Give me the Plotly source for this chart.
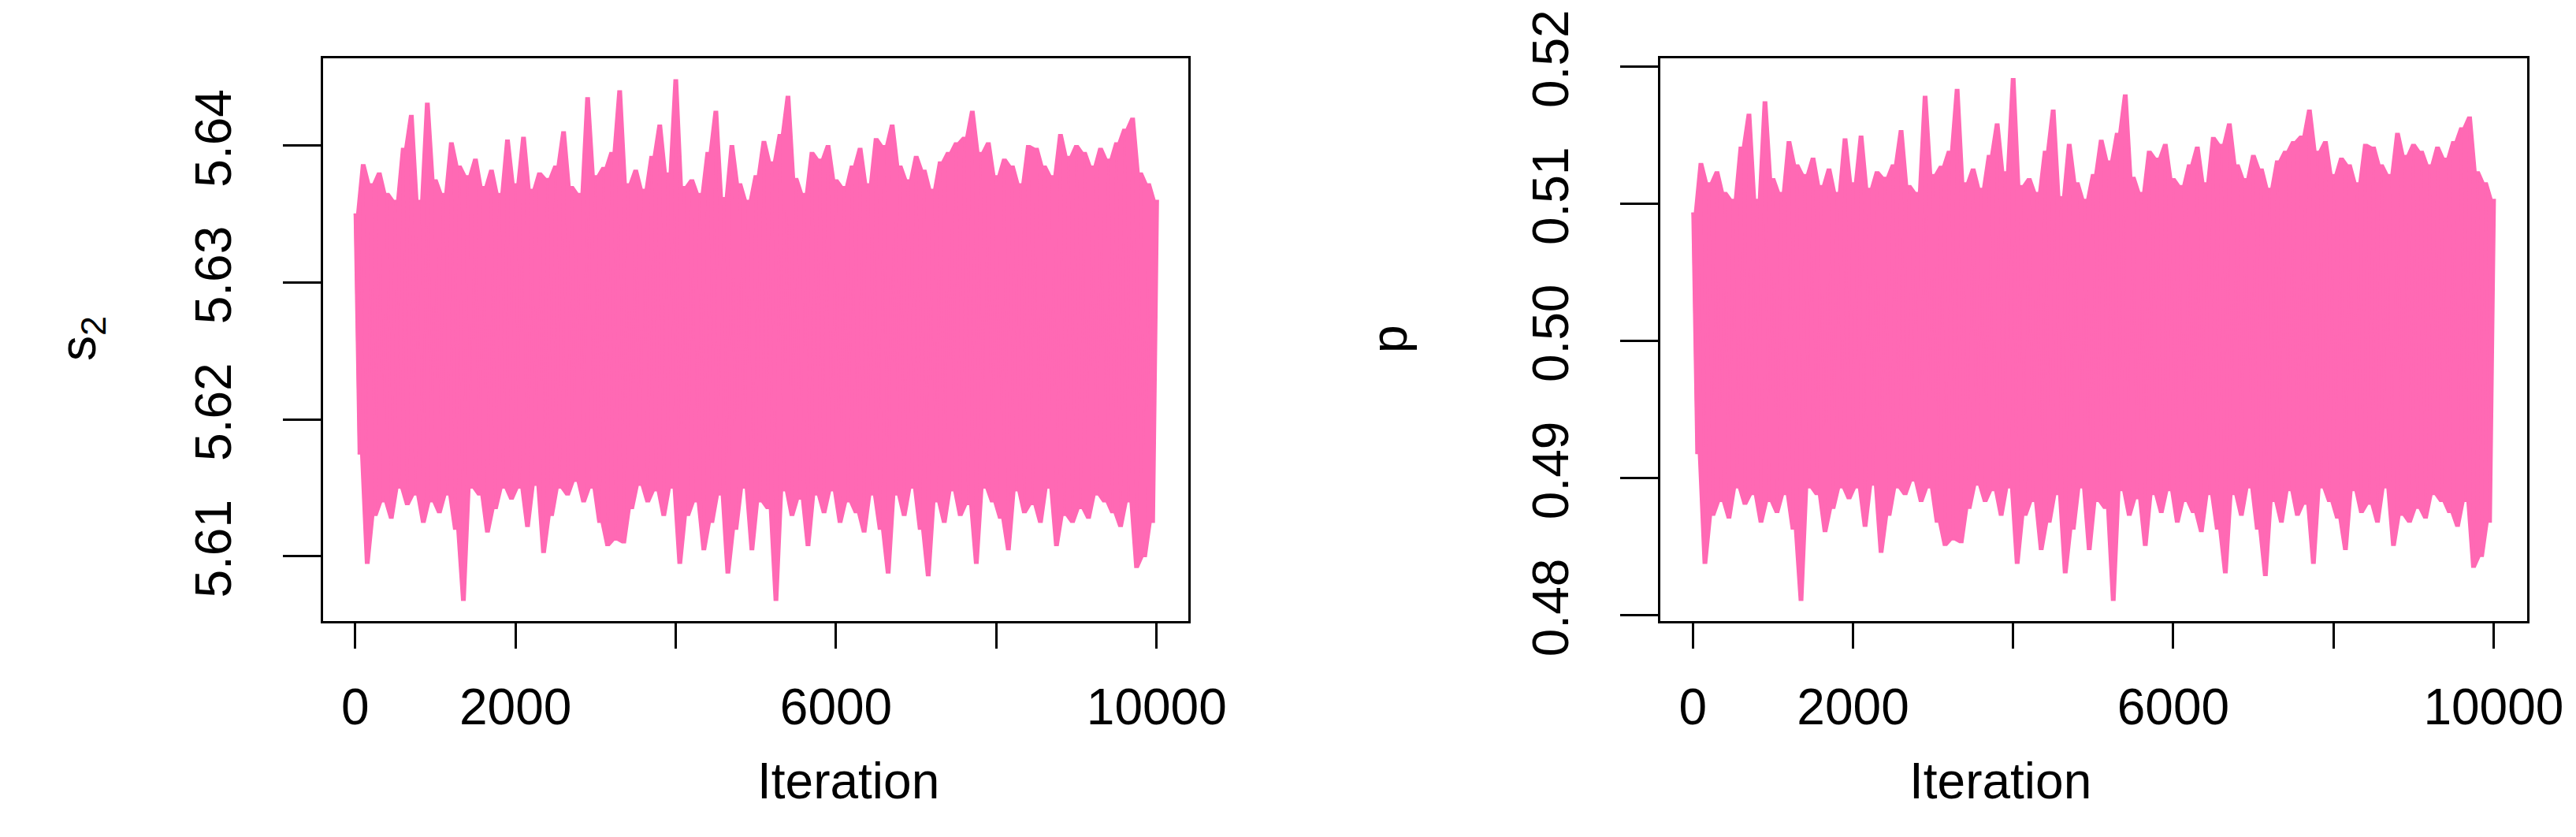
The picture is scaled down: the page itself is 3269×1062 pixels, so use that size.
import plotly.graph_objects as go

# upper excursions of s2 at iterations 0,100,...,10000
s2_hi = [5.6350,5.6386,5.6372,5.6380,5.6365,5.6360,5.6398,5.6422,5.6360,5.6431,
         5.6375,5.6365,5.6402,5.6385,5.6378,5.6390,5.6370,5.6382,5.6365,5.6404,
         5.6372,5.6406,5.6368,5.6380,5.6376,5.6385,5.6410,5.6370,5.6365,5.6435,
         5.6378,5.6384,5.6395,5.6440,5.6372,5.6382,5.6368,5.6392,5.6415,5.6380,
         5.6448,5.6370,5.6375,5.6365,5.6395,5.6425,5.6362,5.6400,5.6372,5.6360,
         5.6378,5.6403,5.6388,5.6408,5.6436,5.6376,5.6365,5.6395,5.6390,5.6400,
         5.6375,5.6370,5.6385,5.6398,5.6372,5.6405,5.6400,5.6415,5.6385,5.6375,
         5.6392,5.6382,5.6368,5.6388,5.6395,5.6402,5.6406,5.6425,5.6395,5.6402,
         5.6378,5.6390,5.6385,5.6372,5.6400,5.6398,5.6385,5.6378,5.6408,5.6392,
         5.6400,5.6395,5.6385,5.6398,5.6390,5.6402,5.6412,5.6420,5.6380,5.6372,5.6360]
# lower excursions of s2 at iterations 50,150,...,9950
s2_lo = [5.6175,5.6095,5.6130,5.6140,5.6128,5.6150,5.6138,5.6145,5.6125,5.6140,
         5.6132,5.6145,5.6120,5.6068,5.6150,5.6145,5.6118,5.6135,5.6150,5.6142,
         5.6150,5.6122,5.6152,5.6103,5.6130,5.6150,5.6145,5.6155,5.6140,5.6150,
         5.6125,5.6108,5.6112,5.6110,5.6135,5.6152,5.6140,5.6148,5.6130,5.6150,
         5.6095,5.6130,5.6140,5.6105,5.6125,5.6145,5.6088,5.6120,5.6150,5.6105,
         5.6140,5.6135,5.6068,5.6148,5.6130,5.6142,5.6108,5.6145,5.6132,5.6148,
         5.6125,5.6140,5.6132,5.6118,5.6145,5.6120,5.6088,5.6145,5.6130,5.6150,
         5.6120,5.6086,5.6140,5.6125,5.6148,5.6130,5.6138,5.6095,5.6150,5.6140,
         5.6128,5.6105,5.6148,5.6132,5.6138,5.6125,5.6150,5.6108,5.6130,5.6125,
         5.6135,5.6128,5.6145,5.6140,5.6132,5.6122,5.6140,5.6092,5.6100,5.6125]
p_hi = [0.5093,0.5129,0.5115,0.5123,0.5108,0.5103,0.5141,0.5165,0.5103,0.5174,
        0.5118,0.5108,0.5145,0.5128,0.5121,0.5133,0.5113,0.5125,0.5108,0.5147,
        0.5115,0.5149,0.5111,0.5123,0.5119,0.5128,0.5153,0.5113,0.5108,0.5178,
        0.5121,0.5127,0.5138,0.5183,0.5115,0.5125,0.5111,0.5135,0.5158,0.5123,
        0.5191,0.5113,0.5118,0.5108,0.5138,0.5168,0.5105,0.5143,0.5115,0.5103,
        0.5121,0.5146,0.5131,0.5151,0.5179,0.5119,0.5108,0.5138,0.5133,0.5143,
        0.5118,0.5113,0.5128,0.5141,0.5115,0.5148,0.5143,0.5158,0.5128,0.5118,
        0.5135,0.5125,0.5111,0.5131,0.5138,0.5145,0.5149,0.5168,0.5138,0.5145,
        0.5121,0.5133,0.5128,0.5115,0.5143,0.5141,0.5128,0.5121,0.5151,0.5135,
        0.5143,0.5138,0.5128,0.5141,0.5133,0.5145,0.5155,0.5163,0.5123,0.5115,0.5103]
p_lo = [0.4918,0.4838,0.4873,0.4883,0.4871,0.4893,0.4881,0.4888,0.4868,0.4883,
        0.4875,0.4888,0.4863,0.4811,0.4893,0.4888,0.4861,0.4878,0.4893,0.4885,
        0.4893,0.4865,0.4895,0.4846,0.4873,0.4893,0.4888,0.4898,0.4883,0.4893,
        0.4868,0.4851,0.4855,0.4853,0.4878,0.4895,0.4883,0.4891,0.4873,0.4893,
        0.4838,0.4873,0.4883,0.4848,0.4868,0.4888,0.4831,0.4863,0.4893,0.4848,
        0.4883,0.4878,0.4811,0.4891,0.4873,0.4885,0.4851,0.4888,0.4875,0.4891,
        0.4868,0.4883,0.4875,0.4861,0.4888,0.4863,0.4831,0.4888,0.4873,0.4893,
        0.4863,0.4829,0.4883,0.4868,0.4891,0.4873,0.4881,0.4838,0.4893,0.4883,
        0.4871,0.4848,0.4891,0.4875,0.4881,0.4868,0.4893,0.4851,0.4873,0.4868,
        0.4878,0.4871,0.4888,0.4883,0.4875,0.4865,0.4883,0.4835,0.4843,0.4868]

x_ticks = [0, 2000, 4000, 6000, 8000, 10000]
x_ticktext = ["0", "2000", "", "6000", "", "10000"]
s2_ticks = [5.61, 5.62, 5.63, 5.64]
p_ticks = [0.48, 0.49, 0.50, 0.51, 0.52]

def band(hi, lo):
    # spikes as steps: upper envelope left->right, lower envelope right->left
    xs, ys = [], []
    for k, v in enumerate(hi):
        xs += [k * 100 - 20, k * 100 + 20]
        ys += [v, v]
    for k in range(len(lo) - 1, -1, -1):
        xs += [k * 100 + 70, k * 100 + 30]
        ys += [lo[k], lo[k]]
    return xs, ys

def zig(hi, lo):
    xs, ys = [], []
    for k in range(len(hi)):
        xs.append(k * 100); ys.append(hi[k])
        if k < len(lo):
            xs.append(k * 100 + 50); ys.append(lo[k])
    return xs, ys

PINK = "#FF69B4"
FONT = "Liberation Sans, Arial, sans-serif"
fig = go.Figure()
for hi, lo, xa, ya in [(s2_hi, s2_lo, "x", "y"), (p_hi, p_lo, "x2", "y2")]:
    bx, by = band(hi, lo)
    fig.add_trace(go.Scatter(x=bx, y=by, mode="lines", fill="toself", fillcolor=PINK,
                             line=dict(color=PINK, width=2, shape="linear"), xaxis=xa, yaxis=ya, showlegend=False))
    zx, zy = zig(hi, lo)
    fig.add_trace(go.Scatter(x=zx, y=zy, mode="lines", line=dict(color=PINK, width=3),
                             xaxis=xa, yaxis=ya, showlegend=False))

ax = dict(showline=True, mirror=True, linecolor="black", linewidth=3, ticks="outside",
          tickcolor="black", tickwidth=3, showgrid=False, zeroline=False, automargin=False,
          tickfont=dict(family=FONT, size=64, color="black"))
fig.update_layout(
    width=3269, height=1062, margin=dict(l=0, r=0, t=0, b=0),
    plot_bgcolor="white", paper_bgcolor="white",
    xaxis=dict(ax, domain=[0.123, 0.459], range=[-400, 10400], tickvals=x_ticks, ticktext=x_ticktext, ticklen=32, ticklabelstandoff=20),
    yaxis=dict(ax, domain=[0.266, 0.938], range=[5.6053, 5.6464], tickvals=s2_ticks, ticktext=["5.61","5.62","5.63","5.64"], ticklen=48, tickangle=-90, ticklabelstandoff=40),
    xaxis2=dict(ax, domain=[0.642, 0.9786], range=[-410, 10420], tickvals=x_ticks, ticktext=x_ticktext, ticklen=32, ticklabelstandoff=20, anchor="y2"),
    yaxis2=dict(ax, domain=[0.266, 0.938], range=[0.4796, 0.5206], tickvals=p_ticks, ticktext=["0.48","0.49","0.50","0.51","0.52"], ticklen=48, tickangle=-90, ticklabelstandoff=40, anchor="x2"),
    annotations=[
        dict(text="Iteration", x=0.291, y=1 - 1021/1062, xref="paper", yref="paper", showarrow=False, font=dict(family=FONT, size=64, color="black")),
        dict(text="Iteration", x=0.810, y=1 - 1021/1062, xref="paper", yref="paper", showarrow=False, font=dict(family=FONT, size=64, color="black")),
        dict(text="s<sub>2</sub>", x=53/3269, y=1 - 422/1062, xref="paper", yref="paper", showarrow=False, textangle=-90, font=dict(family=FONT, size=64, color="black")),
        dict(text="p", x=1755/3269, y=1 - 422/1062, xref="paper", yref="paper", showarrow=False, textangle=-90, font=dict(family=FONT, size=64, color="black")),
    ],
)
fig.write_html("out.html")
